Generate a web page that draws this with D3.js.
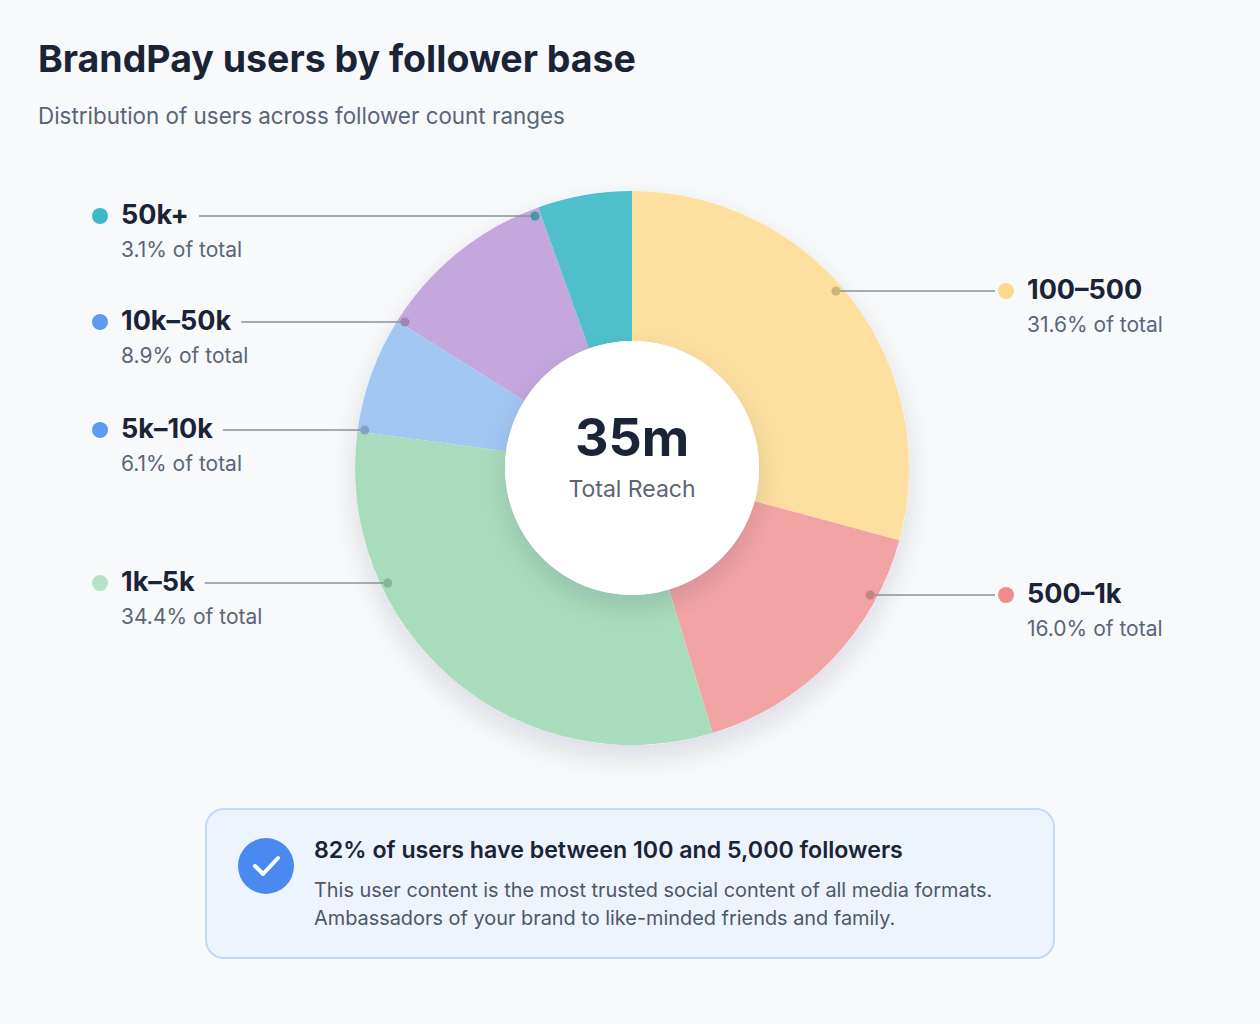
<!DOCTYPE html>
<html>
<head>
<meta charset="UTF-8" />
<script src="https://d3js.org/d3.v7.min.js"></script>
<style>
  body { margin: 0; background: #f8f9fb; font-family: Inter, "Open Sans", sans-serif; }
  svg text { font-family: Inter, "Open Sans", sans-serif; }
</style>
</head>
<body>
<svg width="1260" height="1024"></svg>
<script>
// data
var categories = ["100–500", "500–1k", "1k–5k", "5k–10k", "10k–50k", "50k+"];
var shares = [31.6, 16.0, 34.4, 6.1, 8.9, 3.1];          // printed labels
var sliceValues = [29.2, 16.1, 31.8, 6.8, 10.6, 5.5];    // slice sizes as drawn
var fills = ["#fde0a0", "#f2a4a4", "#a9dcbd", "#a2c7f3", "#c3a7dd", "#4fc0cb"];
var dots = ["#fcd98c", "#f08c8c", "#b4e3c6", "#5b9cf0", "#5b9cf0", "#3fb8c4"];
var labelY = [299, 603, 591, 438, 330, 224];
var labelSide = ["right", "right", "left", "left", "left", "left"];

var svg = d3.select("svg");
var cx = 632, cy = 468, rOut = 277, rIn = 127;

svg.append("text").attr("x", 38).attr("y", 72).attr("font-size", 37.5).attr("font-weight", 700)
  .attr("fill", "#1b2336").text("BrandPay users by follower base");
svg.append("text").attr("x", 38).attr("y", 124).attr("font-size", 22.4).attr("fill", "#5b6578")
  .text("Distribution of users across follower count ranges");

var defs = svg.append("defs");
var f = defs.append("filter").attr("id", "sh").attr("x", "-30%").attr("y", "-30%").attr("width", "160%").attr("height", "160%");
f.append("feDropShadow").attr("dx", 0).attr("dy", 12).attr("stdDeviation", 14).attr("flood-color", "#1b2336").attr("flood-opacity", 0.12);

var pie = d3.pie().sort(null).value(d => d)(sliceValues);
var arc = d3.arc().innerRadius(rIn).outerRadius(rOut);
var g = svg.append("g").attr("transform", "translate(" + cx + "," + cy + ")");
g.append("circle").attr("r", rOut).attr("fill", "#fff").attr("filter", "url(#sh)");
g.selectAll("path").data(pie).enter().append("path")
  .attr("d", arc).attr("fill", (d, i) => fills[i]);
g.append("circle").attr("r", rIn).attr("fill", "#fff").attr("filter", "url(#sh)");
g.append("text").attr("y", -12).attr("text-anchor", "middle").attr("font-size", 52).attr("font-weight", 700)
  .attr("fill", "#1b2336").text("35m");
g.append("text").attr("y", 29).attr("text-anchor", "middle").attr("font-size", 23).attr("fill", "#5b6578")
  .text("Total Reach");

var labels = svg.append("g");
pie.forEach(function (d, i) {
  var right = labelSide[i] === "right";
  var y = labelY[i] - 8;
  var rr = 270;
  var dy = y - cy;
  var ax = cx + (right ? 1 : -1) * Math.sqrt(Math.max(0, rr * rr - dy * dy));
  var tx = right ? 1027 : 121;
  var t = labels.append("text").attr("x", tx).attr("y", labelY[i]).attr("font-size", 27).attr("font-weight", 700)
    .attr("fill", "#1b2336").text(categories[i]);
  var tw = t.node().getComputedTextLength();
  var ls = right ? 995 : tx + tw + 10;
  labels.append("line").attr("x1", ls).attr("y1", y).attr("x2", ax).attr("y2", y)
    .attr("stroke", "#8a909c").attr("stroke-width", 1.5);
  labels.append("circle").attr("cx", ax).attr("cy", y).attr("r", 4.5).attr("fill", d3.color(fills[i]).darker(0.6));
  labels.append("circle").attr("cx", right ? 1006 : 100).attr("cy", y).attr("r", 8).attr("fill", dots[i]);
  labels.append("text").attr("x", tx).attr("y", labelY[i] + 33).attr("font-size", 21).attr("fill", "#5b6578")
    .text(d3.format(".1f")(shares[i]) + "% of total");
});

// callout box
svg.append("rect").attr("x", 206).attr("y", 809).attr("width", 848).attr("height", 149).attr("rx", 18)
  .attr("fill", "#eef4fd").attr("stroke", "#c3d9f5").attr("stroke-width", 2);
svg.append("circle").attr("cx", 266).attr("cy", 866).attr("r", 28).attr("fill", "#4a8af0");
svg.append("path").attr("d", "M255 866 L263 874 L278 858").attr("fill", "none").attr("stroke", "#fff")
  .attr("stroke-width", 4).attr("stroke-linecap", "round").attr("stroke-linejoin", "round");
svg.append("text").attr("x", 314).attr("y", 858).attr("font-size", 23.2).attr("font-weight", 600)
  .attr("fill", "#1b2336").text("82% of users have between 100 and 5,000 followers");
svg.append("text").attr("x", 314).attr("y", 897).attr("font-size", 19.9).attr("fill", "#4d5769")
  .text("This user content is the most trusted social content of all media formats.");
svg.append("text").attr("x", 314).attr("y", 925).attr("font-size", 19.9).attr("fill", "#4d5769")
  .text("Ambassadors of your brand to like-minded friends and family.");
</script>
</body>
</html>
